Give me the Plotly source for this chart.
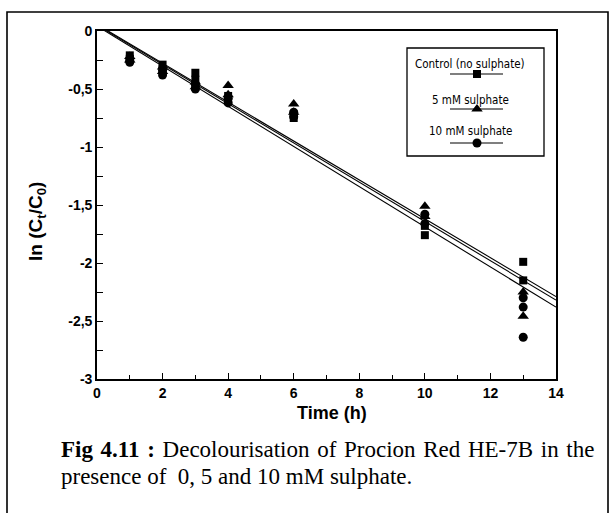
import plotly.graph_objects as go

# ---------------- data ----------------
ctrl_x = [1, 1, 2, 2, 3, 3, 3, 4, 4, 6, 6, 10, 10, 13, 13]
ctrl_y = [-0.21, -0.24, -0.29, -0.33, -0.36, -0.42, -0.48, -0.56, -0.60, -0.72, -0.75, -1.68, -1.76, -1.99, -2.15]

s5_x = [1, 1, 2, 2, 3, 3, 4, 4, 6, 6, 10, 10, 13, 13]
s5_y = [-0.22, -0.25, -0.31, -0.35, -0.44, -0.48, -0.47, -0.55, -0.63, -0.70, -1.51, -1.60, -2.25, -2.46]

s10_x = [1, 1, 2, 2, 3, 3, 4, 4, 6, 6, 10, 10, 13, 13, 13]
s10_y = [-0.25, -0.27, -0.34, -0.38, -0.46, -0.50, -0.58, -0.62, -0.70, -0.74, -1.58, -1.66, -2.30, -2.38, -2.64]

# linear fits  y = intercept + slope * t
fit_names = ["Control (no sulphate)", "5 mM sulphate", "10 mM sulphate"]
fit_intercepts = [0.057, 0.051, 0.043]
fit_slopes = [-0.1676, -0.1693, -0.1731]
fit_t = [0, 14]

x_ticks = [0, 2, 4, 6, 8, 10, 12, 14]
y_ticks = [0, -0.5, -1, -1.5, -2, -2.5, -3]
y_ticklabels = ["0", "-0,5", "-1", "-1,5", "-2", "-2,5", "-3"]

legend_labels = ["Control (no sulphate)", "5 mM sulphate", "10 mM sulphate"]
legend_symbols = ["square", "triangle-up", "circle"]
legend_sizes = [8, 10, 9]

caption_line1 = "<b>Fig 4.11 :</b> Decolourisation of Procion Red HE-7B in the"
caption_line2 = "presence of  0, 5 and 10 mM sulphate."

# ---------------- figure ----------------
W, H = 614, 513
L, R, T, B = 97, 556, 31, 379  # plot area in px


def px(x):
    return (x - L) / (R - L)


def py(y):
    return (B - y) / (B - T)


fig = go.Figure()

for b0, b1 in zip(fit_intercepts, fit_slopes):
    fig.add_trace(go.Scatter(
        x=fit_t, y=[b0 + b1 * t for t in fit_t], mode="lines",
        line=dict(color="black", width=1.1), showlegend=False, hoverinfo="skip"))

series = [(ctrl_x, ctrl_y, "square", 8), (s5_x, s5_y, "triangle-up", 10), (s10_x, s10_y, "circle", 9)]
for (xs, ys, sym, sz), name in zip(series, fit_names):
    fig.add_trace(go.Scatter(
        x=xs, y=ys, mode="markers", name=name,
        marker=dict(symbol=sym, size=sz, color="black", line=dict(width=0)),
        showlegend=False, cliponaxis=False))

# custom legend drawn in an auxiliary pixel-based axis
LX0, LX1, LY0, LY1 = 407, 544, 48, 156
sample_y = [74, 109, 143]
text_y = [64, 100, 131]
for sy, sym, sz in zip(sample_y, legend_symbols, legend_sizes):
    fig.add_trace(go.Scatter(
        x=[450, 503], y=[sy, sy], mode="lines", line=dict(color="black", width=1.2),
        xaxis="x2", yaxis="y2", showlegend=False, hoverinfo="skip"))
    fig.add_trace(go.Scatter(
        x=[477], y=[sy], mode="markers",
        marker=dict(symbol=sym, size=sz, color="black"),
        xaxis="x2", yaxis="y2", showlegend=False, hoverinfo="skip"))

annotations = []
for ty, lab in zip(text_y, legend_labels):
    annotations.append(dict(
        x=470, y=ty, xref="x2", yref="y2", text=lab, showarrow=False,
        font=dict(family="DejaVu Sans Condensed, Liberation Sans Narrow, sans-serif", size=11.5, color="black"),
        xanchor="center", yanchor="middle"))

annotations.append(dict(
    x=px(37), y=py(222), xref="paper", yref="paper", textangle=-90,
    text="<b>ln (C<sub>t</sub>/C<sub>0</sub>)</b>", showarrow=False,
    font=dict(family="Liberation Sans, Arial, sans-serif", size=19, color="black"),
    xanchor="center", yanchor="middle"))
annotations.append(dict(
    x=px(332), y=py(413), xref="paper", yref="paper",
    text="<b>Time (h)</b>", showarrow=False,
    font=dict(family="Liberation Sans, Arial, sans-serif", size=18, color="black"),
    xanchor="center", yanchor="middle"))
annotations.append(dict(
    x=px(59), y=py(449), xref="paper", yref="paper",
    text=caption_line1.replace(" ", " \u200a").replace("<b> \u200a", "<b> "),
    showarrow=False,
    font=dict(family="Liberation Serif, Times New Roman, serif", size=23, color="black"),
    xanchor="left", yanchor="middle"))
annotations.append(dict(
    x=px(59), y=py(476), xref="paper", yref="paper",
    text=caption_line2,
    showarrow=False,
    font=dict(family="Liberation Serif, Times New Roman, serif", size=23, color="black"),
    xanchor="left", yanchor="middle"))

shapes = [
    dict(type="rect", xref="x2", yref="y2", x0=LX0, x1=LX1, y0=LY0, y1=LY1,
         line=dict(color="black", width=1.3), fillcolor="rgba(0,0,0,0)"),
    dict(type="rect", xref="paper", yref="paper", x0=px(7), x1=px(608), y0=py(12), y1=py(520),
         line=dict(color="black", width=1.6), fillcolor="rgba(0,0,0,0)", layer="below"),
]

tickfont = dict(family="Liberation Sans, Arial, sans-serif", size=14, color="black")

fig.update_layout(
    width=W, height=H,
    margin=dict(l=L, r=W - R, t=T, b=H - B, pad=0),
    paper_bgcolor="white", plot_bgcolor="white",
    showlegend=False,
    xaxis=dict(range=[0, 14], tickvals=x_ticks, ticktext=["<b>%d</b>" % v for v in x_ticks],
               ticks="inside", ticklen=6, tickwidth=1.2, tickcolor="black",
               minor=dict(dtick=1, ticks="inside", ticklen=4, tickcolor="black", tickwidth=1),
               showline=True, linecolor="black", linewidth=1.6, mirror=True,
               showgrid=False, zeroline=False, tickfont=tickfont),
    yaxis=dict(range=[-3, 0], tickvals=y_ticks, ticktext=["<b>%s</b>" % t for t in y_ticklabels],
               ticks="inside", ticklen=6, tickwidth=1.2, tickcolor="black",
               minor=dict(dtick=0.25, ticks="inside", ticklen=6, tickcolor="black", tickwidth=1),
               showline=True, linecolor="black", linewidth=1.6, mirror=True,
               showgrid=False, zeroline=False, tickfont=tickfont),
    xaxis2=dict(domain=[0, 1], range=[L, R], visible=False, overlaying="x", anchor="y2"),
    yaxis2=dict(domain=[0, 1], range=[B, T], visible=False, overlaying="y", anchor="x2"),
    annotations=annotations,
    shapes=shapes,
)

fig.write_html("out.html")
